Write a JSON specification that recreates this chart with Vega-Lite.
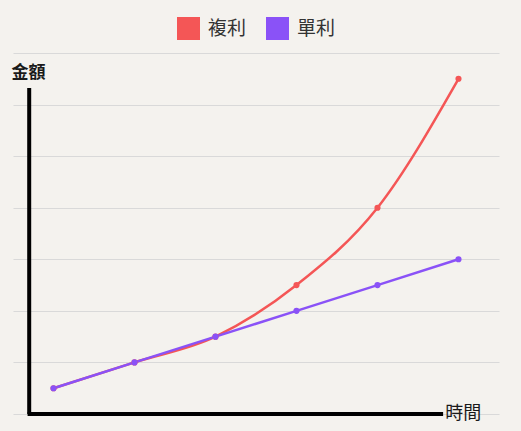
{
  "$schema": "https://vega.github.io/schema/vega-lite/v6.json",
  "autosize": "none",
  "width": 486,
  "height": 361,
  "padding": {"left": 13, "top": 53, "right": 22, "bottom": 17},
  "background": "#f4f2ee",
  "data": {
    "values": [
      {"period": 1, "type": "複利", "value": 0.5},
      {"period": 2, "type": "複利", "value": 1},
      {"period": 3, "type": "複利", "value": 1.5},
      {"period": 4, "type": "複利", "value": 2.5},
      {"period": 5, "type": "複利", "value": 4},
      {"period": 6, "type": "複利", "value": 6.5},
      {"period": 1, "type": "單利", "value": 0.5},
      {"period": 2, "type": "單利", "value": 1},
      {"period": 3, "type": "單利", "value": 1.5},
      {"period": 4, "type": "單利", "value": 2},
      {"period": 5, "type": "單利", "value": 2.5},
      {"period": 6, "type": "單利", "value": 3}
    ]
  },
  "layer": [
    {
      "description": "y axis line",
      "data": {"values": [{}]},
      "mark": {"type": "rule", "color": "#000000", "strokeWidth": 4},
      "encoding": {
        "x": {"datum": 0.7, "type": "quantitative", "scale": {"domain": [0.5, 6.5]}, "axis": null},
        "y": {"datum": 0, "type": "quantitative", "scale": {"domain": [0, 7]},
          "axis": {"grid": true, "gridColor": "#d9d9d9", "gridWidth": 1, "values": [0, 1, 2, 3, 4, 5, 6, 7],
            "labels": false, "ticks": false, "domain": false, "title": null}},
        "y2": {"datum": 6.32}
      }
    },
    {
      "description": "x axis line",
      "data": {"values": [{}]},
      "mark": {"type": "rule", "color": "#000000", "strokeWidth": 4},
      "encoding": {
        "x": {"datum": 0.68, "type": "quantitative"},
        "x2": {"datum": 5.81},
        "y": {"datum": 0, "type": "quantitative"}
      }
    },
    {
      "mark": {"type": "line", "interpolate": "monotone", "strokeWidth": 2.5,
        "point": {"filled": true, "size": 38}},
      "encoding": {
        "x": {"field": "period", "type": "quantitative"},
        "y": {"field": "value", "type": "quantitative"},
        "color": {
          "field": "type", "type": "nominal",
          "scale": {"domain": ["複利", "單利"], "range": ["#f45656", "#8a52f7"]},
          "legend": {"orient": "top", "direction": "horizontal", "title": null,
            "symbolType": "square", "symbolSize": 529, "symbolStrokeWidth": 0,
            "symbolOpacity": 1, "labelFontSize": 19, "labelFont": "Noto Sans CJK TC",
            "labelColor": "#333333", "labelOffset": 8, "columnPadding": 19, "offset": 13}
        },
        "order": {"field": "period"}
      }
    },
    {
      "description": "y title",
      "data": {"values": [{}]},
      "mark": {"type": "text", "text": "金額", "font": "Noto Sans CJK TC", "fontSize": 17,
        "fontWeight": "bold", "fill": "#1a1a1a"},
      "encoding": {
        "x": {"datum": 0.69, "type": "quantitative"},
        "y": {"datum": 6.61, "type": "quantitative"}
      }
    },
    {
      "description": "x title",
      "data": {"values": [{}]},
      "mark": {"type": "text", "text": "時間", "font": "Noto Sans CJK TC", "fontSize": 18,
        "fontWeight": "normal", "fill": "#1a1a1a"},
      "encoding": {
        "x": {"datum": 6.06, "type": "quantitative"},
        "y": {"datum": 0, "type": "quantitative"}
      }
    }
  ],
  "config": {
    "view": {"stroke": null},
    "legend": {"layout": {"top": {"anchor": "middle"}}}
  }
}
